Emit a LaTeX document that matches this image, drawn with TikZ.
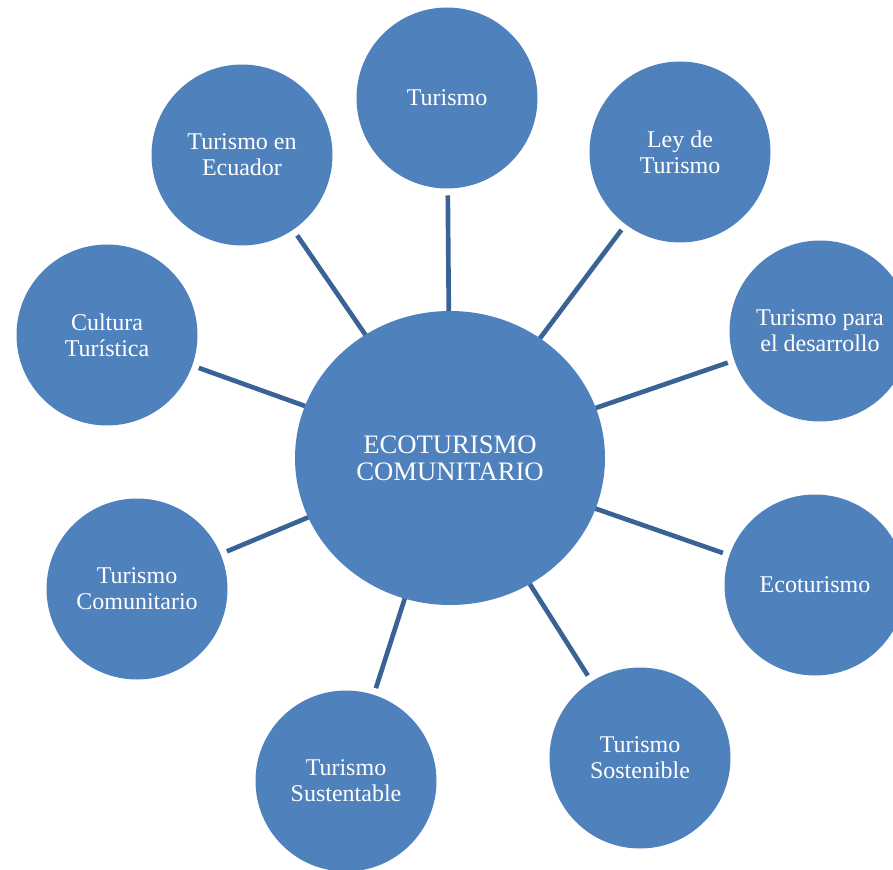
\documentclass[tikz,border=0pt]{standalone}
\usepackage{fontspec}
\setmainfont{Liberation Serif}
\usetikzlibrary{shapes.geometric}
\definecolor{bubble}{HTML}{4F81BD}
\definecolor{spoke}{HTML}{3A6395}

\begin{document}
\begin{tikzpicture}[x=0.75pt,y=-0.75pt,
	topic/.style = {circle, fill=bubble, outer sep=0pt, minimum size=135.75pt, align=center, text=white, font=\fontsize{18}{19.5}\selectfont},
	link/.style = {line width=3.5pt, spoke, shorten <=5.25pt}]
					\useasboundingbox (0,0) rectangle (893,870);
					\node[ellipse,fill=bubble,outer sep=0pt,minimum width=232.5pt,minimum height=220.5pt,align=center,text=white,font=\fontsize{20}{20.5}\selectfont] (eco) at (450,458) {ECOTURISMO\\COMUNITARIO};
					\begin{scope}[every node/.style={topic}]
						\node (tur) at (447,98) {Turismo};
						\node (ley) at (680,152) {Ley de\\Turismo};
						\node (des) at (820,331) {Turismo para\\el desarrollo};
						\node (ecot) at (815,585) {Ecoturismo};
						\node (sost) at (640,758) {Turismo\\Sostenible};
						\node (sust) at (346,781) {Turismo\\Sustentable};
						\node (com) at (137,589) {Turismo\\Comunitario};
						\node (cul) at (107,335) {Cultura\\Turística};
						\node (ecu) at (242,155) {Turismo en\\Ecuador};
					\end{scope}
					\draw [link] (tur) -- (eco);
					\draw [link] (ley) -- (eco);
					\draw [link] (des) -- (eco);
					\draw [link] (ecot) -- (eco);
					\draw [link] (sost) -- (eco);
					\draw [link] (sust) -- (eco);
					\draw [link] (com) -- (eco);
					\draw [link] (cul) -- (eco);
					\draw [link] (ecu) -- (eco);
				\end{tikzpicture}
\end{document}
